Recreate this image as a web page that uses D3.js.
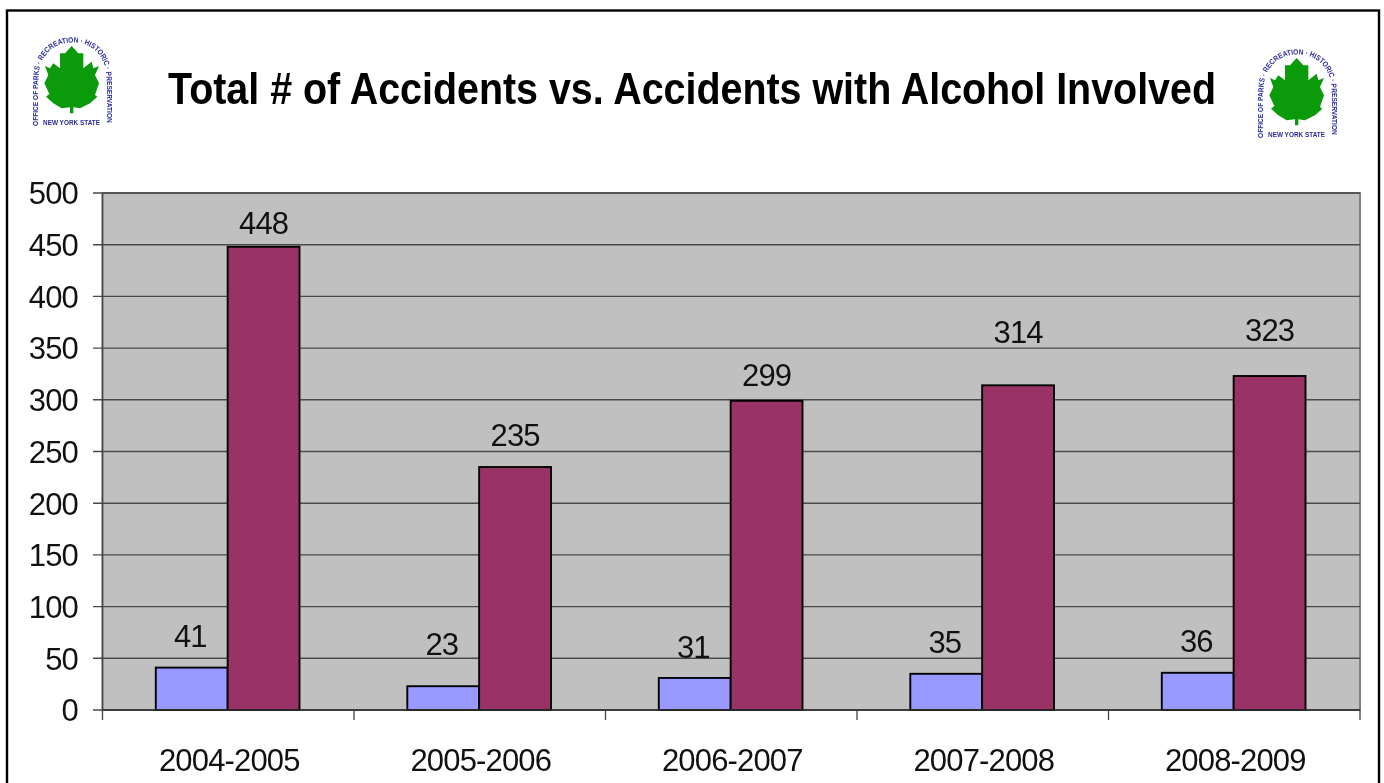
<!DOCTYPE html>
<html><head><meta charset="utf-8">
<script src="https://d3js.org/d3.v7.min.js"></script>
<style>
html,body{margin:0;padding:0;background:#fff;overflow:hidden}
svg{display:block;filter:blur(0.4px)}
text{font-family:"Liberation Sans",Arial,sans-serif;fill:#111}
</style></head><body><div id="c"></div>
<script>
const categories=["2004-2005","2005-2006","2006-2007","2007-2008","2008-2009"];
const seriesNames=["Total","Alcohol"];
const totalAlcoholValues=[41,23,31,35,36];
const totalAccidentValues=[448,235,299,314,323];
const yTicks=[0,50,100,150,200,250,300,350,400,450,500];
const titleText="Total # of Accidents vs. Accidents with Alcohol Involved";
const seriesColors=["#9999ff","#993366"];
// label lift above each bar, as placed in the source chart (pixels)
const labelLift=[[31,41,30,31,31],[23,31,25,53,45]];

const W=1384,H=783,FS=31,LS="-0.85px";
const m={l:102.5,r:1360,t:193,b:710};
const svg=d3.select("#c").append("svg").attr("width",W).attr("height",H);
svg.append("rect").attr("x",7).attr("y",10.5).attr("width",1372).attr("height",790)
  .attr("fill","#fff").attr("stroke","#000").attr("stroke-width",2.4);

const x=d3.scaleBand().domain(categories).range([m.l,m.r]);
const x1=d3.scaleBand().domain(seriesNames).range([0,x.bandwidth()]).paddingInner(0).paddingOuter(0.75);
const y=d3.scaleLinear().domain([0,500]).range([m.b,m.t]);

svg.append("rect").attr("x",m.l).attr("y",m.t).attr("width",m.r-m.l).attr("height",m.b-m.t)
  .attr("fill","#c0c0c0").attr("stroke","#808080").attr("stroke-width",2);

svg.append("g").selectAll("line").data(yTicks).join("line")
  .attr("x1",93).attr("x2",m.r).attr("y1",d=>y(d)).attr("y2",d=>y(d))
  .attr("stroke","#4a4a4a").attr("stroke-width",1.4);
svg.append("line").attr("x1",m.l).attr("x2",m.l).attr("y1",m.t).attr("y2",720).attr("stroke","#444").attr("stroke-width",1.3);

const yAxis=d3.axisLeft(y).tickValues(yTicks).tickSize(0).tickPadding(0);
const gy=svg.append("g").attr("transform","translate(78,0)").call(yAxis);
gy.select(".domain").remove();
gy.selectAll("text").attr("font-size",FS).attr("dy","0.35em").attr("fill","#111").style("letter-spacing",LS);

const xTicks=categories.map((c,i)=>m.l+x.step()*(i+1));
svg.append("g").selectAll("line").data(xTicks).join("line")
  .attr("x1",d=>d).attr("x2",d=>d).attr("y1",m.b).attr("y2",720).attr("stroke","#444").attr("stroke-width",1.3);
const xAxis=d3.axisBottom(x).tickSize(0).tickPadding(0);
const gx=svg.append("g").attr("transform",`translate(1,${m.b+61})`).call(xAxis);
gx.select(".domain").remove();
gx.selectAll("text").attr("font-size",FS).attr("dy",0).attr("fill","#111").style("letter-spacing",LS);

[totalAlcoholValues,totalAccidentValues].forEach((vals,s)=>{
  const g=svg.append("g");
  g.selectAll("rect").data(vals).join("rect")
    .attr("x",(d,i)=>x(categories[i])+x1(seriesNames[s])-0.6)
    .attr("y",d=>y(d)).attr("width",x1.bandwidth()).attr("height",d=>m.b-y(d))
    .attr("fill",seriesColors[s]).attr("stroke","#000").attr("stroke-width",1.9);
  g.selectAll("text").data(vals).join("text")
    .attr("x",(d,i)=>x(categories[i])+x1(seriesNames[s])+x1.bandwidth()/2+(s?-0.5:-2))
    .attr("y",(d,i)=>y(d)-labelLift[s][i]).attr("dy","0.33em")
    .attr("text-anchor","middle").attr("font-size",FS).style("letter-spacing",LS).text(d=>d);
});
svg.append("line").attr("x1",m.l).attr("x2",m.r).attr("y1",m.b).attr("y2",m.b).attr("stroke","#333").attr("stroke-width",1.6);

svg.append("text").attr("x",168).attr("y",104).attr("font-size",45).attr("font-weight","bold")
  .attr("textLength",1048).attr("lengthAdjust","spacingAndGlyphs").style("fill","#000").text(titleText);

// logo
const leaf=[[215,138],[235,160],[250,160],[250,205],[275,185],[280,205],[297,198],[285,225],[297,250],[285,285],[292,290],[270,310],[240,325],[220,322],[220,340],[210,340],[210,322],[185,325],[160,310],[138,290],[148,282],[133,250],[145,225],[135,198],[150,205],[160,190],[180,205],[180,160],[195,160]];
const defs=svg.append("defs");
defs.append("path").attr("id","arch").attr("d","M 5.5 91 L 5.5 44 C 5.5 21 20 7.5 39.5 7.5 C 59 7.5 73.5 21 73.5 44 L 73.5 91");
function logo(tx,ty){
  const g=svg.append("g").attr("transform",`translate(${tx},${ty})`);
  g.append("path").attr("fill","#0a9a0a")
    .attr("d",d3.line().x(p=>p[0]/3-33).y(p=>p[1]/3-35).curve(d3.curveLinearClosed)(leaf));
  g.append("text").attr("font-size",7.6).attr("font-weight","bold").style("fill","#2b2b9c")
    .append("textPath").attr("href","#arch").attr("textLength",203).attr("lengthAdjust","spacingAndGlyphs")
    .text("OFFICE OF PARKS · RECREATION · HISTORIC · PRESERVATION");
  g.append("text").attr("x",38.5).attr("y",90).attr("text-anchor","middle").attr("font-size",7.6).attr("font-weight","bold")
    .attr("textLength",57).attr("lengthAdjust","spacingAndGlyphs").style("fill","#2b2b9c").text("NEW YORK STATE");
}
logo(33,35);
logo(1258,47);
</script></body></html>
